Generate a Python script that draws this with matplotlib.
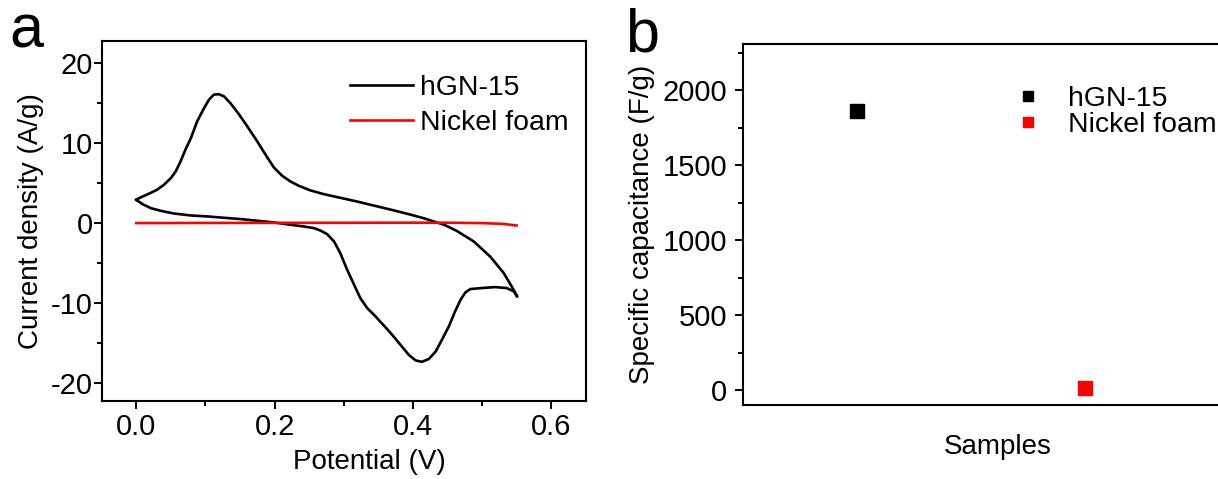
import matplotlib
matplotlib.use('Agg')
import matplotlib.pyplot as plt
from matplotlib.ticker import AutoMinorLocator, MultipleLocator, FormatStrFormatter

plt.rcParams['font.family'] = ['Liberation Sans', 'DejaVu Sans']
plt.rcParams['font.size'] = 21
plt.rcParams['axes.unicode_minus'] = False

# CV loop of hGN-15 (forward sweep 0 -> 0.55 V, then back)
cv_potential = [0.000, 0.006, 0.018, 0.030, 0.040, 0.050, 0.057, 0.064, 0.071, 0.079,
                0.088, 0.098, 0.105, 0.112, 0.119, 0.127, 0.136, 0.148, 0.160, 0.175,
                0.187, 0.199, 0.211, 0.223, 0.235, 0.252, 0.271, 0.295, 0.319, 0.343,
                0.367, 0.392, 0.416, 0.430, 0.445, 0.464, 0.488, 0.512, 0.531, 0.543,
                0.551,
                0.546, 0.536, 0.519, 0.498, 0.483, 0.476, 0.469, 0.461, 0.452, 0.442,
                0.433, 0.423, 0.413, 0.404, 0.394, 0.382, 0.370, 0.358, 0.346, 0.334,
                0.324, 0.315, 0.305, 0.295, 0.286, 0.276, 0.266, 0.257, 0.242, 0.223,
                0.199, 0.175, 0.151, 0.127, 0.103, 0.079, 0.054, 0.035, 0.021, 0.009,
                0.000]
cv_current = [2.91, 3.20, 3.66, 4.16, 4.79, 5.62, 6.45, 7.70, 9.16, 10.62,
              12.70, 14.37, 15.41, 16.04, 16.12, 15.83, 15.00, 13.66, 12.16, 10.20,
              8.54, 6.95, 5.91, 5.20, 4.66, 4.08, 3.62, 3.16, 2.70, 2.20,
              1.70, 1.16, 0.60, 0.20, -0.20, -1.00, -2.30, -4.20, -6.20, -7.93,
              -9.20,
              -8.55, -8.13, -8.00, -8.13, -8.25, -8.67, -9.59, -11.05, -12.92, -14.59,
              -16.05, -17.00, -17.34, -17.17, -16.46, -15.21, -13.96, -12.80, -11.67, -10.63,
              -9.38, -7.71, -5.84, -3.75, -2.30, -1.38, -0.92, -0.63, -0.42, -0.21,
              0.08, 0.29, 0.50, 0.66, 0.83, 0.95, 1.20, 1.54, 1.87, 2.37,
              2.91]

# bare nickel foam
ni_potential = [0.0, 0.1, 0.2, 0.3, 0.4, 0.45, 0.5, 0.53, 0.55]
ni_current = [0.0, 0.02, 0.03, 0.04, 0.05, 0.05, 0.0, -0.1, -0.3]

# specific capacitance
samples = ['hGN-15', 'Nickel foam']
sample_pos = [1, 2]
capacitance = [1860, 15]
sample_colors = ['black', 'red']

fig = plt.figure(figsize=(12.18, 4.79), dpi=100)

def style_axes(ax, ypad):
    for s in ax.spines.values():
        s.set_linewidth(1.5)
    ax.tick_params(which='both', direction='out', top=False, right=False, width=1.4)
    ax.tick_params(which='major', length=5.5)
    ax.tick_params(which='minor', length=3.5)
    ax.tick_params(axis='y', pad=ypad)

# ---- panel a ----
ax1 = fig.add_axes([0.0835, 0.1635, 0.3974, 0.7516])
ax1.plot(cv_potential, cv_current, color='black', lw=1.9, label='hGN-15', solid_joinstyle='round')
ax1.plot(ni_potential, ni_current, color='red', lw=1.9, label='Nickel foam')
ax1.set_xlim(-0.05, 0.65)
ax1.set_ylim(-22.2, 22.8)
ax1.xaxis.set_major_locator(MultipleLocator(0.2))
ax1.xaxis.set_minor_locator(AutoMinorLocator(2))
ax1.yaxis.set_major_locator(MultipleLocator(10))
ax1.yaxis.set_minor_locator(AutoMinorLocator(2))
ax1.xaxis.set_major_formatter(FormatStrFormatter('%.1f'))
style_axes(ax1, 1)
ax1.set_xlabel('Potential (V)', fontsize=20)
ax1.xaxis.set_label_coords(0.554, -0.17)
ax1.xaxis.label.set_va('center')
ax1.set_ylabel('Current density (A/g)', fontsize=20)
ax1.yaxis.set_label_coords(-0.12, 0.5)
ax1.legend(loc='upper left', bbox_to_anchor=(0.513, 0.905), frameon=False,
           borderpad=0, borderaxespad=0, handlelength=2.22, handletextpad=0.25,
           labelspacing=0.32, fontsize=20.4)

# ---- panel b ----
ax2 = fig.add_axes([0.6103, 0.1545, 0.4078, 0.753])
for p, v, c, name in zip(sample_pos, capacitance, sample_colors, samples):
    ax2.plot([p], [v], 's', color=c, ms=9.5, label=name)
ax2.set_xlim(0.503, 2.679)
ax2.set_ylim(-100, 2305)
ax2.yaxis.set_major_locator(MultipleLocator(500))
ax2.yaxis.set_minor_locator(AutoMinorLocator(2))
style_axes(ax2, 6)
ax2.tick_params(axis='x', which='both', bottom=False, labelbottom=False)
ax2.set_xlabel('Samples', fontsize=20)
ax2.xaxis.set_label_coords(0.513, -0.116)
ax2.xaxis.label.set_va('center')
ax2.set_ylabel('Specific capacitance (F/g)', fontsize=20)
ax2.yaxis.set_label_coords(-0.178, 0.5)
ax2.legend(loc='upper left', bbox_to_anchor=(0.545, 0.884), frameon=False,
           borderpad=0, borderaxespad=0, handlelength=1.0, handletextpad=0.92,
           labelspacing=0.0, markerscale=0.77, fontsize=20.4)

fig.text(0.008, 0.9, 'a', fontsize=44, va='baseline')
fig.text(0.513, 0.892, 'b', fontsize=44, va='baseline')

fig.savefig('out.png', dpi=100)
